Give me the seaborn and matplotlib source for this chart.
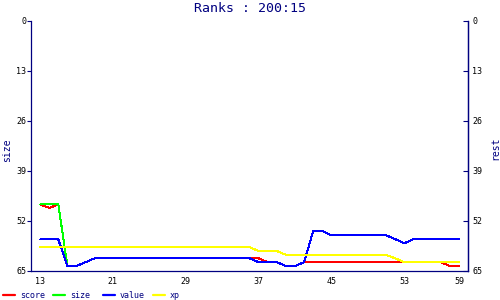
import matplotlib
matplotlib.use('Agg')
import matplotlib.pyplot as plt
import seaborn as sns
import pandas as pd
from matplotlib.lines import Line2D

# ---- data ----
x_vals = [13, 14, 15, 16, 17, 18, 19, 20, 21, 22, 23, 24, 25, 26, 27, 28,
          29, 30, 31, 32, 33, 34, 35, 36, 37, 38, 39, 40, 41, 42, 43, 44,
          45, 46, 47, 48, 49, 50, 51, 52, 53, 54, 55, 56, 57, 58, 59]
score = [47.7, 48.6, 47.7, 63.7, 63.7, 62.7,
         61.7, 61.7, 61.7, 61.7, 61.7, 61.7, 61.7, 61.7, 61.7, 61.7,
         61.7, 61.7, 61.7, 61.7, 61.7, 61.7, 61.7,
         61.7, 61.7, 62.7, 62.7, 63.7, 63.7,
         62.7, 62.7, 62.7, 62.7, 62.7, 62.7, 62.7, 62.7, 62.7, 62.7, 62.7,
         62.7, 62.7, 62.7, 62.7, 62.7, 63.7, 63.7]
value = [56.8, 56.8, 56.8, 63.7, 63.7, 62.7,
         61.7, 61.7, 61.7, 61.7, 61.7, 61.7, 61.7, 61.7, 61.7, 61.7,
         61.7, 61.7, 61.7, 61.7, 61.7, 61.7, 61.7, 61.7,
         62.7, 62.7, 62.7, 63.7, 63.7, 62.7,
         54.6, 54.6, 55.7, 55.7, 55.7, 55.7, 55.7, 55.7, 55.7,
         56.7, 57.8, 56.7, 56.7, 56.7, 56.7, 56.7, 56.7]
size = [47.7, 47.7, 47.7, 63.7, 63.7, 62.7,
        61.7, 61.7, 61.7, 61.7, 61.7, 61.7, 61.7, 61.7, 61.7, 61.7,
        61.7, 61.7, 61.7, 61.7, 61.7, 61.7, 61.7, 61.7,
        62.7, 62.7, 62.7, 63.7, 63.7, 62.7,
        54.6, 54.6, 55.7, 55.7, 55.7, 55.7, 55.7, 55.7, 55.7,
        56.7, 57.8, 56.7, 56.7, 56.7, 56.7, 56.7, 56.7]
xp = [58.8, 58.8, 58.8, 58.8, 58.8, 58.8, 58.8, 58.8, 58.8, 58.8, 58.8, 58.8,
      58.8, 58.8, 58.8, 58.8, 58.8, 58.8, 58.8, 58.8, 58.8, 58.8, 58.8, 58.8,
      59.8, 59.8, 59.8,
      60.8, 60.8, 60.8, 60.8, 60.8, 60.8, 60.8, 60.8, 60.8, 60.8, 60.8, 60.8,
      61.7,
      62.7, 62.7, 62.7, 62.7, 62.7, 62.7, 62.7]

series_names = ['score', 'size', 'value', 'xp']
series_colors = ['#ff0000', '#00ff00', '#0000ff', '#ffff00']
x_ticks = [13, 21, 29, 37, 45, 53, 59]
y_ticks = [0, 13, 26, 39, 52, 65]
title = 'Ranks : 200:15'
left_label = 'size'
right_label = 'rest'

# ---- style ----
sns.set_style('white')
plt.rcParams['font.family'] = ['DejaVu Sans Mono', 'DejaVu Sans']
navy = '#000080'

df = pd.DataFrame({
    'x': x_vals * 4,
    'rank': score + size + value + xp,
    'series': [n for n in series_names for _ in x_vals],
})

fig = plt.figure(figsize=(5, 3), dpi=100)
ax = fig.add_axes([31 / 500, 29 / 300, 437 / 500, 250 / 300])

sns.lineplot(data=df, x='x', y='rank', hue='series', hue_order=series_names,
             palette=series_colors, linewidth=0.72, ax=ax, legend=False,
             estimator=None, sort=False, antialiased=False)

ax.set_xlim(12, 60)
ax.set_ylim(65, 0)
ax.set_xticks(x_ticks)
ax.set_yticks(y_ticks)
ax.set_xlabel('')
ax.set_ylabel(left_label, color=navy, fontsize=7)
ax.yaxis.set_label_coords(-0.0435, 0.484)

for s in ['left', 'right', 'bottom']:
    ax.spines[s].set_color(navy)
    ax.spines[s].set_linewidth(0.9)
ax.spines['top'].set_visible(False)

ax.tick_params(axis='x', direction='out', length=3, width=0.8, colors=navy,
               labelcolor='black', labelsize=6, pad=1.5)
ax.tick_params(axis='y', direction='out', length=3, width=0.8, colors=navy,
               labelcolor='black', labelsize=6, pad=0.5)

ax2 = ax.twinx()
ax2.set_ylim(65, 0)
ax2.set_yticks(y_ticks)
ax2.spines['top'].set_visible(False)
ax2.spines['right'].set_color(navy)
ax2.spines['right'].set_linewidth(0.9)
ax2.spines['left'].set_visible(False)
ax2.spines['bottom'].set_visible(False)
ax2.tick_params(axis='y', direction='in', length=3.5, width=0.8, colors=navy,
                labelcolor='black', labelsize=6, pad=3)
ax2.set_ylabel(right_label, color=navy, fontsize=7, rotation=90)
ax2.yaxis.set_label_coords(1.05, 0.49)

fig.text(0.5, 1 - 8 / 300, title, ha='center', va='center', fontsize=9.5,
         color=navy)

# legend entries along the bottom
leg_x = [3, 53, 103, 153]
for name, col, lx in zip(series_names, series_colors, leg_x):
    h = Line2D([], [], color=col, linewidth=1.6)
    fig.legend(handles=[h], labels=[name], loc='center left',
               bbox_to_anchor=(lx / 500, 5 / 300), frameon=False,
               fontsize=6, handlelength=1.45, handletextpad=0.6,
               borderpad=0, borderaxespad=0, labelcolor=navy)

fig.savefig('out.png', dpi=100)
